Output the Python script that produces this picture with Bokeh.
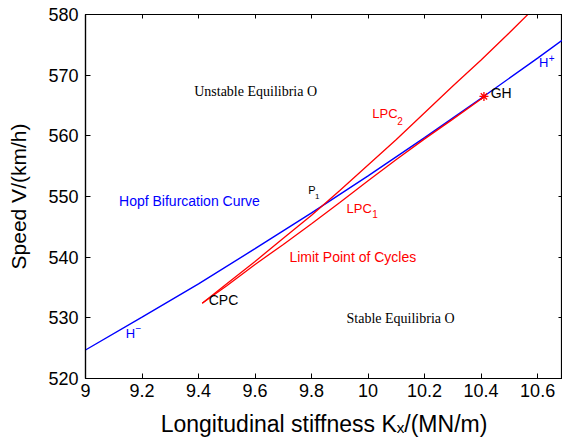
from bokeh.plotting import figure
from bokeh.models import Label, LinearAxis, FixedTicker, Range1d
from bokeh.embed import file_html
from bokeh.resources import INLINE

# ---- data ----
hopf_k = [9.0, 9.2, 9.4, 9.6, 9.8, 10.0, 10.2, 10.4, 10.6, 10.7]
hopf_v = [524.7, 530.1, 535.6, 541.4, 547.3, 553.4, 559.7, 566.2, 572.8, 576.2]

lpc2_k = [9.413, 9.5, 9.6, 9.7, 9.8, 9.9, 10.0, 10.1, 10.2, 10.3, 10.4, 10.5, 10.6]
lpc2_v = [532.4, 535.6, 539.3, 543.1, 546.9, 551.0, 555.2, 559.4, 563.8, 568.2, 572.5, 577.0, 581.6]

lpc1_k = [9.413, 9.5, 9.6, 9.7, 9.8, 9.9, 10.0, 10.1, 10.2, 10.3, 10.41]
lpc1_v = [532.4, 535.3, 538.8, 542.1, 545.5, 549.0, 552.6, 556.1, 559.5, 562.75, 566.4]

gh_k = [10.41]
gh_v = [566.5]

xticks = [9.0, 9.2, 9.4, 9.6, 9.8, 10.0, 10.2, 10.4, 10.6]
xtick_labels = ["9", "9.2", "9.4", "9.6", "9.8", "10", "10.2", "10.4", "10.6"]
yticks = [520, 530, 540, 550, 560, 570, 580]
ytick_labels = ["520", "530", "540", "550", "560", "570", "580"]

BLUE = "#0000ff"
RED = "#ff0000"
SANS = "Liberation Sans"
SERIF = "Liberation Serif"

p = figure(width=562, height=445, output_backend="svg", toolbar_location=None,
           x_range=Range1d(9.0, 10.688), y_range=Range1d(520, 580),
           min_border_left=85, min_border_right=0, min_border_top=14, min_border_bottom=67)
p.xgrid.visible = False
p.ygrid.visible = False
p.outline_line_color = "black"
p.outline_line_width = 1.2
p.background_fill_color = "white"
p.border_fill_color = "white"

for ax in (p.xaxis[0], p.yaxis[0]):
    ax.major_tick_in = 5
    ax.major_tick_out = 0
    ax.minor_tick_line_color = None
    ax.axis_line_width = 1.2
    ax.major_tick_line_width = 1
    ax.major_label_text_font = SANS
    ax.major_label_text_font_size = "18px"
    ax.major_label_text_color = "black"
    ax.axis_label_text_font = SANS
    ax.axis_label_text_font_style = "normal"
    ax.axis_label_text_color = "black"

p.xaxis.ticker = FixedTicker(ticks=xticks)
p.xaxis.major_label_overrides = {k: l for k, l in zip(xticks, xtick_labels)}
p.xaxis.major_label_standoff = 5
p.xaxis.axis_label = "Longitudinal stiffness K\u2093/(MN/m)"
p.xaxis.axis_label_text_font_size = "23px"
p.xaxis.axis_label_standoff = 11

p.yaxis.ticker = FixedTicker(ticks=yticks)
p.yaxis.major_label_overrides = {k: l for k, l in zip(yticks, ytick_labels)}
p.yaxis.major_label_standoff = 7
p.yaxis.axis_label = "Speed V/(km/h)"
p.yaxis.axis_label_text_font_size = "21px"
p.yaxis.axis_label_standoff = 15

# top / right axes with inward ticks only (labels not drawn)
top = LinearAxis(ticker=FixedTicker(ticks=xticks), major_label_text_font_size="1px",
                 major_label_text_color=None, major_label_standoff=0,
                 major_tick_in=4, major_tick_out=0,
                 minor_tick_line_color=None, axis_line_width=1.2)
right = LinearAxis(ticker=FixedTicker(ticks=yticks), major_label_text_font_size="1px",
                   major_label_text_color=None, major_label_standoff=0,
                   major_tick_in=4, major_tick_out=0,
                   minor_tick_line_color=None, axis_line_width=1.2)
p.add_layout(top, "above")
p.add_layout(right, "right")

# curves
p.line(hopf_k, hopf_v, line_color=BLUE, line_width=1.4)
p.line(lpc2_k, lpc2_v, line_color=RED, line_width=1.3)
p.line(lpc1_k, lpc1_v, line_color=RED, line_width=1.3)
p.scatter(gh_k, gh_v, marker="asterisk", size=9, line_color=RED, line_width=1.3)

def lab(x, y, text, color="black", font=SANS, size="14px", align="left", baseline="middle"):
    p.add_layout(Label(x=x, y=y, text=text, text_color=color, text_font=font,
                       text_font_size=size, text_align=align, text_baseline=baseline))

lab(9.602, 567.3, "Unstable Equilibria O", font=SERIF, align="center")
lab(10.115, 529.9, "Stable Equilibria O", font=SERIF, align="center")
lab(9.368, 549.3, "Hopf Bifurcation Curve", color=BLUE, align="center")
lab(9.946, 540.1, "Limit Point of Cycles", color=RED, align="center")
lab(10.015, 563.6, "LPC", color=RED, size="13px")
lab(10.103, 562.5, "2", color=RED, size="10px")
lab(9.924, 548.0, "LPC", color=RED, size="13px")
lab(10.015, 547.1, "1", color=RED, size="10px")
lab(9.788, 551.0, "P", size="11px")
lab(9.812, 550.0, "1", size="8px")
lab(9.142, 527.4, "H", color=BLUE, size="13px")
lab(9.177, 528.4, "\u2212", color=BLUE, size="10px")
lab(10.605, 572.1, "H", color=BLUE, size="13px")
lab(10.639, 572.9, "+", color=BLUE, size="10px")
lab(10.434, 567.0, "GH", size="14px")
lab(9.436, 533.0, "CPC", size="14px")

open("out.html", "w").write(file_html(p, INLINE))
